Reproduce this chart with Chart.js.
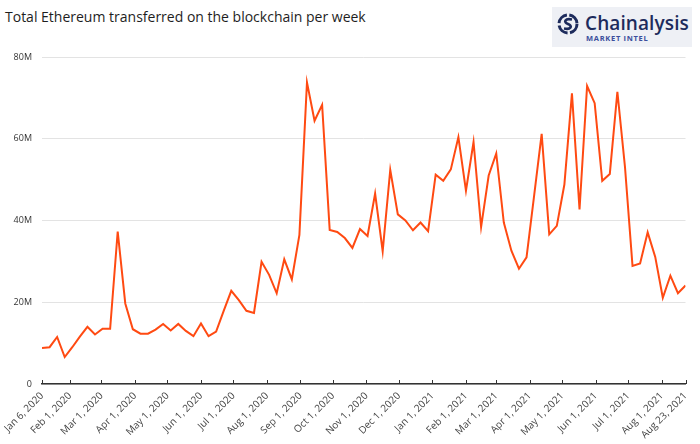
<!DOCTYPE html>
<html>
<head>
<meta charset="utf-8">
<script src="https://cdn.jsdelivr.net/npm/chart.js@4.4.0/dist/chart.umd.min.js"></script>
<style>
    body { margin: 0; background: #fff; }
    #wrap { position: relative; width: 700px; height: 444px; overflow: hidden; }
    #title { position: absolute; left: 5px; top: 7px; font: 14px "Open Sans", sans-serif; color: #1e1e1e; white-space: nowrap; }
    #logo { position: absolute; left: 552px; top: 7px; width: 140px; height: 40px; background: #eef0f5; }
    #logo svg { position: absolute; left: 5px; top: 6px; }
    #logo .name { position: absolute; left: 33px; top: 3px; font: 600 19px "Open Sans", sans-serif; color: #1d2b5c; letter-spacing: 0.1px; }
    #logo .sub { position: absolute; left: 34px; top: 26px; font: 700 7.5px "Open Sans", sans-serif; color: #3b4e9c; letter-spacing: 0.7px; }
    canvas { position: absolute; left: 0; top: 0; }
</style>
</head>
<body>
<div id="wrap">
    <div id="title">Total Ethereum transferred on the blockchain per week</div>
    <div id="logo">
        <svg width="22" height="22" viewBox="0 0 22 22">
            <circle cx="11" cy="11" r="9" fill="none" stroke="#1d2b5c" stroke-width="3" stroke-dasharray="12 2.5"/>
            <path d="M15 6.5 C 8 5, 6 9, 11 11 C 16 13, 14 17, 7 15.5" fill="none" stroke="#1d2b5c" stroke-width="2.6"/>
        </svg>
        <div class="name">Chainalysis</div>
        <div class="sub">MARKET INTEL</div>
    </div>
    <canvas id="chart" width="700" height="444"></canvas>
</div>
<script>
// weekly series, starting Monday Jan 6, 2020 (millions of ETH)
var startDate = "2020-01-06";
var weekValues = [
    8.8, 9.0, 11.5, 6.6, 9.0, 11.6, 14.0, 12.1, 13.5, 13.5,
    37.3, 19.7, 13.4, 12.3, 12.3, 13.3, 14.7, 13.1, 14.7, 13.0,
    11.7, 14.8, 11.7, 12.8, 17.9, 22.8, 20.5, 17.9, 17.4, 29.9,
    26.7, 22.2, 30.5, 25.6, 36.5, 73.8, 64.4, 68.3, 37.7, 37.2,
    35.7, 33.3, 37.9, 36.2, 46.6, 32.5, 52.4, 41.5, 40.0, 37.6,
    39.5, 37.4, 51.2, 49.7, 52.5, 60.4, 47.3, 59.2, 38.4, 51.0,
    56.4, 39.5, 32.6, 28.2, 31.0, 46.0, 61.2, 36.6, 38.7, 48.8,
    71.1, 42.7, 72.9, 68.7, 49.7, 51.4, 71.5, 53.2, 28.9, 29.5,
    37.1, 31.1, 21.1, 26.5, 22.2, 24.1
];
var tickDates = [
    "2020-01-06", "2020-02-01", "2020-03-01", "2020-04-01", "2020-05-01",
    "2020-06-01", "2020-07-01", "2020-08-01", "2020-09-01", "2020-10-01",
    "2020-11-01", "2020-12-01", "2021-01-01", "2021-02-01", "2021-03-01",
    "2021-04-01", "2021-05-01", "2021-06-01", "2021-07-01", "2021-08-01",
    "2021-08-23"
];
var yTicks = [0, 20, 40, 60, 80];

var monthNames = ["Jan", "Feb", "Mar", "Apr", "May", "Jun", "Jul", "Aug", "Sep", "Oct", "Nov", "Dec"];
var DAY = 86400000;
var t0 = Date.parse(startDate + "T00:00:00Z");

function dayOffset(s) {
    return Math.round((Date.parse(s + "T00:00:00Z") - t0) / DAY);
}
function dayLabel(d) {
    var dt = new Date(t0 + d * DAY);
    return monthNames[dt.getUTCMonth()] + " " + dt.getUTCDate() + ", " + dt.getUTCFullYear();
}

var points = weekValues.map(function (v, i) { return { x: i * 7, y: v }; });
var tickDays = tickDates.map(dayOffset);

// small tick marks sitting on top of the x axis line
var tickMarks = {
    id: "tickMarks",
    afterDraw: function (chart) {
        var sx = chart.scales.x, ctx = chart.ctx, y = chart.chartArea.bottom;
        ctx.save();
        ctx.strokeStyle = "#333";
        ctx.lineWidth = 1;
        sx.ticks.forEach(function (t) {
            var px = Math.round(sx.getPixelForValue(t.value)) + 0.5;
            ctx.beginPath();
            ctx.moveTo(px, y - 4);
            ctx.lineTo(px, y);
            ctx.stroke();
        });
        ctx.restore();
    }
};

new Chart(document.getElementById("chart").getContext("2d"), {
    type: "line",
    plugins: [tickMarks],
    data: {
        datasets: [{
            data: points,
            borderColor: "#ff4a12",
            borderWidth: 2,
            pointRadius: 0,
            tension: 0,
            fill: false
        }]
    },
    options: {
        responsive: false,
        animation: false,
        layout: { padding: { top: 57, right: 13, left: 0, bottom: 0 } },
        scales: {
            x: {
                type: "linear",
                min: 0,
                max: tickDays[tickDays.length - 1],
                afterBuildTicks: function (scale) {
                    scale.ticks = tickDays.map(function (d) { return { value: d }; });
                },
                afterFit: function (scale) { scale.height = 60; },
                grid: { drawOnChartArea: false, drawTicks: false },
                border: { display: true, color: "#333", width: 1.5 },
                ticks: {
                    autoSkip: false,
                    maxRotation: 45,
                    minRotation: 45,
                    padding: 6,
                    color: "#444",
                    font: { family: "Open Sans", size: 10 },
                    callback: function (value) { return dayLabel(value); }
                }
            },
            y: {
                min: 0,
                max: 80,
                afterBuildTicks: function (scale) {
                    scale.ticks = yTicks.map(function (v) { return { value: v }; });
                },
                afterFit: function (scale) { scale.width = 42; },
                grid: { color: "#e3e3e3", drawTicks: false },
                border: { display: false },
                ticks: {
                    padding: 10,
                    color: "#333",
                    font: { family: "Open Sans", size: 9 },
                    callback: function (value) { return value === 0 ? "0" : value + "M"; }
                }
            }
        },
        plugins: {
            legend: { display: false },
            tooltip: { enabled: false }
        }
    }
});
</script>
</body>
</html>
